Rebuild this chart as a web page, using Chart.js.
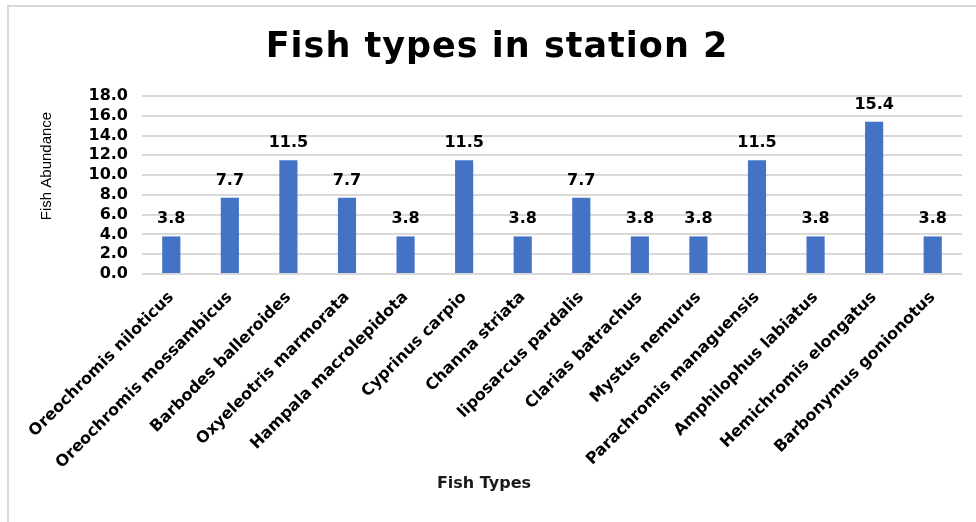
<!DOCTYPE html>
<html>
<head>
<meta charset="utf-8">
<title>Fish types in station 2</title>
<script src="https://cdn.jsdelivr.net/npm/chart.js@4.4.1/dist/chart.umd.min.js"></script>
<style>
  html, body { margin: 0; padding: 0; background: #ffffff; }
  #wrap { position: relative; width: 976px; height: 522px; overflow: hidden; }
  #frame {
    position: absolute; left: 7px; top: 5px; right: -10px; bottom: -10px;
    border-left: 2px solid #d9d9d9; border-top: 2px solid #d9d9d9;
    pointer-events: none;
  }
  canvas { display: block; }
</style>
</head>
<body>
<div id="wrap">
  <canvas id="chart" width="976" height="522"></canvas>
  <div id="frame"></div>
</div>
<script>
// Species recorded at station 2
const fishTypes = [
  'Oreochromis niloticus',
  'Oreochromis mossambicus',
  'Barbodes balleroides',
  'Oxyeleotris marmorata',
  'Hampala macrolepidota',
  'Cyprinus carpio',
  'Channa striata',
  'liposarcus pardalis',
  'Clarias batrachus',
  'Mystus nemurus',
  'Parachromis managuensis',
  'Amphilophus labiatus',
  'Hemichromis elongatus',
  'Barbonymus gonionotus'
];

// Abundance of each species
const abundance = [3.8, 7.7, 11.5, 7.7, 3.8, 11.5, 3.8, 7.7, 3.8, 3.8, 11.5, 3.8, 15.4, 3.8];

// Value axis
const yMin = 0;
const yMax = 18;
const yStep = 2;

const chartTitle = 'Fish types in station 2';
const xTitle = 'Fish Types';
const yTitle = 'Fish Abundance';

const FONT = "'DejaVu Sans', Verdana, sans-serif";

// Slightly wider letter spacing for the main title
const titleSpacing = {
  id: 'titleSpacing',
  beforeDraw(chart) {
    const tb = chart.titleBlock;
    if (tb && !tb._spaced) {
      const orig = tb.draw;
      tb.draw = function () {
        const c = this.ctx;
        c.save();
        c.letterSpacing = '1px';
        orig.apply(this, arguments);
        c.restore();
      };
      tb._spaced = true;
    }
  }
};

// Value labels above bars
const valueLabels = {
  id: 'valueLabels',
  afterDatasetsDraw(chart) {
    const ctx = chart.ctx;
    const meta = chart.getDatasetMeta(0);
    const data = chart.data.datasets[0].data;
    ctx.save();
    ctx.font = 'bold 16px ' + FONT;
    ctx.fillStyle = '#000000';
    ctx.textAlign = 'center';
    ctx.textBaseline = 'alphabetic';
    meta.data.forEach((bar, i) => {
      ctx.fillText(Number(data[i]).toFixed(1), bar.x, bar.y - 13);
    });
    ctx.restore();
  }
};

// Axis titles
const axisTitles = {
  id: 'axisTitles',
  afterDraw(chart) {
    const ctx = chart.ctx;
    const a = chart.chartArea;
    ctx.save();
    ctx.fillStyle = '#1a1a1a';
    ctx.textAlign = 'center';
    ctx.textBaseline = 'middle';
    ctx.font = 'bold 16px ' + FONT;
    ctx.fillText(xTitle, a.left + 342, a.bottom + 210);
    ctx.translate(a.left - 95, a.top + 70);
    ctx.rotate(-Math.PI / 2);
    ctx.fillStyle = '#000000';
    ctx.font = "15px 'Liberation Sans', Arial, sans-serif";
    ctx.fillText(yTitle, 0, 0);
    ctx.restore();
  }
};

new Chart(document.getElementById('chart'), {
  type: 'bar',
  data: {
    labels: fishTypes,
    datasets: [{
      label: yTitle,
      data: abundance,
      backgroundColor: '#4472C4',
      borderWidth: 0,
      categoryPercentage: 1.0,
      barPercentage: 0.31
    }]
  },
  options: {
    responsive: false,
    animation: false,
    layout: { padding: { left: 32, right: 14, top: 0, bottom: 48 } },
    plugins: {
      legend: { display: false },
      tooltip: { enabled: false },
      title: {
        display: true,
        text: chartTitle,
        color: '#000000',
        font: { family: FONT, size: 35, weight: 'bold' },
        padding: { top: 27, bottom: 27 }
      }
    },
    scales: {
      x: {
        grid: { display: false },
        border: { display: false },
        ticks: {
          autoSkip: false,
          maxRotation: 45,
          minRotation: 45,
          padding: 6,
          color: '#000000',
          font: { family: FONT, size: 16, weight: 'bold' }
        },
        afterFit(scale) { scale.height = 200; }
      },
      y: {
        min: yMin,
        max: yMax,
        grid: { color: '#d9d9d9', lineWidth: 2, drawTicks: false },
        border: { display: false },
        ticks: {
          stepSize: yStep,
          autoSkip: false,
          padding: 14,
          color: '#000000',
          font: { family: FONT, size: 16, weight: 'bold' },
          callback: (v) => Number(v).toFixed(1)
        },
        afterFit(scale) { scale.width = 110; }
      }
    }
  },
  plugins: [titleSpacing, valueLabels, axisTitles]
});
</script>
</body>
</html>
